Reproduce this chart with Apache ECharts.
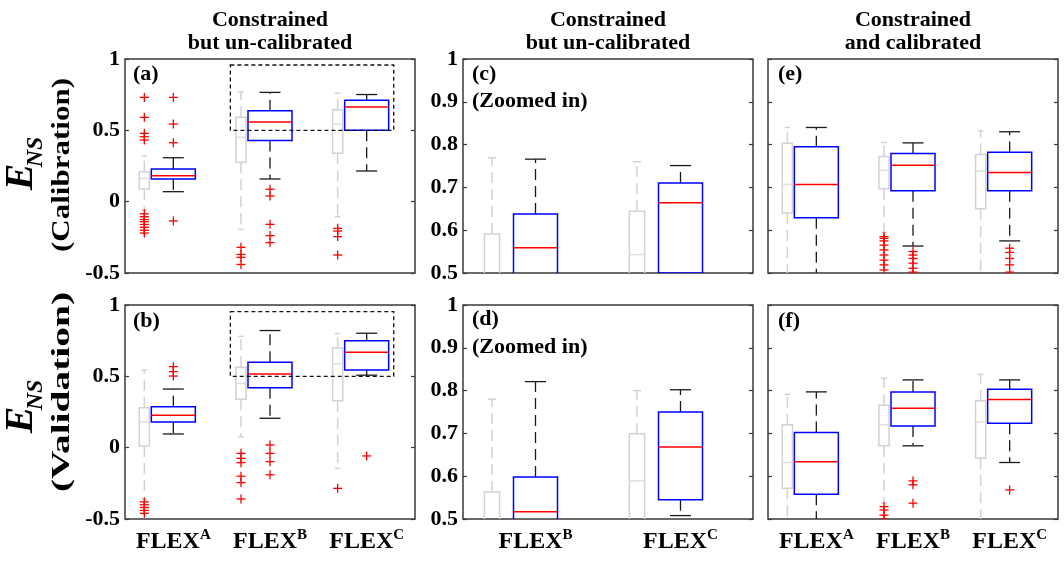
<!DOCTYPE html>
<html><head><meta charset="utf-8">
<script src="https://cdn.jsdelivr.net/npm/echarts@6/dist/echarts.min.js"></script>
<style>html,body{margin:0;padding:0;background:#fff}#chart{width:1064px;height:563px}</style>
</head><body><div id="chart"></div>
<script>
// ---------- DATA ----------
const modelsAll = ['A', 'B', 'C'];
const modelsZoom = ['B', 'C'];
const axisTicksWide = { min: -0.5, max: 1, interval: 0.5 };
const axisTicksZoom = { min: 0.5, max: 1, interval: 0.1 };
// five-number summaries [min, q1, median, q3, max] for FLEX A, B, C
// constrained but un-calibrated, calibration period
const calUncalGray = [[-0.06, 0.089, 0.163, 0.21, 0.32], [-0.194, 0.276, 0.451, 0.591, 0.769], [-0.105, 0.339, 0.543, 0.644, 0.76]];
const calUncalBlue = [[0.07, 0.159, 0.182, 0.229, 0.308], [0.159, 0.428, 0.559, 0.638, 0.766], [0.215, 0.5, 0.664, 0.71, 0.751]];
const calUncalGrayOut = [[0.731, 0.591, 0.479, 0.455, 0.432, -0.085, -0.105, -0.125, -0.14, -0.16, -0.18, -0.2, -0.22], [-0.32, -0.37, -0.39, -0.44], [-0.187, -0.206, -0.245, -0.374]];
const calUncalBlueOut = [[0.731, 0.544, 0.413, -0.135], [0.087, 0.04, -0.159, -0.238, -0.287], []];
// constrained but un-calibrated, validation period
const valUncalGray = [[-0.36, 0.012, 0.18, 0.28, 0.544], [0.077, 0.339, 0.451, 0.563, 0.78], [-0.145, 0.329, 0.589, 0.699, 0.8]];
const valUncalBlue = [[0.096, 0.18, 0.227, 0.287, 0.411], [0.206, 0.42, 0.517, 0.598, 0.821], [0.508, 0.545, 0.668, 0.75, 0.802]];
const valUncalGrayOut = [[-0.38, -0.40, -0.42, -0.44, -0.46], [-0.04, -0.075, -0.105, -0.2, -0.245, -0.36], [-0.285]];
const valUncalBlueOut = [[0.568, 0.533, 0.502], [0.019, -0.04, -0.098, -0.19], [-0.058]];
// constrained and calibrated, calibration period
const calCalGray = [[0.35, 0.64, 0.707, 0.803, 0.84], [0.595, 0.697, 0.74, 0.772, 0.805], [0.4, 0.65, 0.738, 0.777, 0.832]];
const calCalBlue = [[0.3, 0.629, 0.707, 0.795, 0.84], [0.563, 0.692, 0.752, 0.779, 0.804], [0.575, 0.692, 0.735, 0.782, 0.83]];
const calCalGrayOut = [[], [0.585, 0.581, 0.575, 0.565, 0.554, 0.542, 0.53, 0.519, 0.507], []];
const calCalBlueOut = [[], [0.55, 0.542, 0.534, 0.523, 0.511, 0.502], [0.558, 0.548, 0.534, 0.519, 0.502]];
// constrained and calibrated, validation period
const valCalGray = [[0.4, 0.572, 0.632, 0.72, 0.791], [0.537, 0.671, 0.72, 0.766, 0.829], [0.4, 0.642, 0.727, 0.776, 0.838]];
const valCalBlue = [[0.35, 0.558, 0.634, 0.702, 0.797], [0.671, 0.717, 0.759, 0.797, 0.825], [0.632, 0.724, 0.779, 0.803, 0.825]];
const valCalGrayOut = [[], [0.529, 0.521, 0.509, 0.5], []];
const valCalBlueOut = [[], [0.589, 0.58, 0.537], [0.568]];
// dashed zoom window (E_NS range) shown in panels a and b, spanning FLEX B..C
const zoomWindowCal = [0.5, 0.958];
const zoomWindowVal = [0.5, 0.953];

// ---------- LAYOUT / STYLE ----------
const FONT = '"Liberation Serif", "Times New Roman", serif';
const panels = [
  { id: 'a', left: 125, top: 59, cats: modelsAll, pick: [0, 1, 2], axis: axisTicksWide, yLabels: true, xLabels: false,
    gray: calUncalGray, blue: calUncalBlue, grayOut: calUncalGrayOut, blueOut: calUncalBlueOut, win: zoomWindowCal },
  { id: 'b', left: 125, top: 305, cats: modelsAll, pick: [0, 1, 2], axis: axisTicksWide, yLabels: true, xLabels: true,
    gray: valUncalGray, blue: valUncalBlue, grayOut: valUncalGrayOut, blueOut: valUncalBlueOut, win: zoomWindowVal },
  { id: 'c', left: 463, top: 59, cats: modelsZoom, pick: [1, 2], axis: axisTicksZoom, yLabels: true, xLabels: false,
    gray: calUncalGray, blue: calUncalBlue, grayOut: calUncalGrayOut, blueOut: calUncalBlueOut },
  { id: 'd', left: 463, top: 305, cats: modelsZoom, pick: [1, 2], axis: axisTicksZoom, yLabels: true, xLabels: true,
    gray: valUncalGray, blue: valUncalBlue, grayOut: valUncalGrayOut, blueOut: valUncalBlueOut },
  { id: 'e', left: 768, top: 59, cats: modelsAll, pick: [0, 1, 2], axis: axisTicksZoom, yLabels: false, xLabels: false,
    gray: calCalGray, blue: calCalBlue, grayOut: calCalGrayOut, blueOut: calCalBlueOut },
  { id: 'f', left: 768, top: 305, cats: modelsAll, pick: [0, 1, 2], axis: axisTicksZoom, yLabels: false, xLabels: true,
    gray: valCalGray, blue: valCalBlue, grayOut: valCalGrayOut, blueOut: valCalBlueOut }
];
const PW = 290, PH = 214;

function boxRender(kind) {
  return function (params, api) {
    const cat = api.value(0);
    const band = api.size([1, 0])[0];
    const cxBase = api.coord([cat, api.value(3)])[0];
    const y = k => api.coord([cat, api.value(k)])[1];
    const yMin = y(1), yQ1 = y(2), yMed = y(3), yQ3 = y(4), yMax = y(5);
    let cx, w, capW, boxC, medC, whC, whW, boxW;
    if (kind === 'gray') {
      cx = cxBase - 0.3 * band; w = 0.105 * band; capW = w * 0.55;
      boxC = '#d2d2d2'; medC = '#dedede'; whC = '#d2d2d2'; whW = 1.5; boxW = 1.5;
    } else {
      cx = cxBase; w = 44; capW = 21;
      boxC = '#0000ff'; medC = '#ff0000'; whC = '#1a1a1a'; whW = 1.3; boxW = 1.5;
    }
    const dash = { stroke: whC, lineWidth: whW, lineDash: [11, 6] };
    const solid = { stroke: whC, lineWidth: whW };
    return {
      type: 'group',
      children: [
        { type: 'line', shape: { x1: cx, y1: yQ3, x2: cx, y2: yMax }, style: dash },
        { type: 'line', shape: { x1: cx, y1: yQ1, x2: cx, y2: yMin }, style: dash },
        { type: 'line', shape: { x1: cx - capW / 2, y1: yMax, x2: cx + capW / 2, y2: yMax }, style: solid },
        { type: 'line', shape: { x1: cx - capW / 2, y1: yMin, x2: cx + capW / 2, y2: yMin }, style: solid },
        { type: 'rect', shape: { x: cx - w / 2, y: yQ3, width: w, height: yQ1 - yQ3 }, style: { fill: 'none', stroke: boxC, lineWidth: boxW } },
        { type: 'line', shape: { x1: cx - w / 2, y1: yMed, x2: cx + w / 2, y2: yMed }, style: { stroke: medC, lineWidth: 1.5 } }
      ]
    };
  };
}
function plusRender(kind) {
  return function (params, api) {
    const cat = api.value(0);
    const band = api.size([1, 0])[0];
    const p = api.coord([cat, api.value(1)]);
    const cx = kind === 'gray' ? p[0] - 0.3 * band : p[0];
    const s = 4.5;
    const st = { stroke: '#ff0000', lineWidth: 1.3 };
    return {
      type: 'group',
      children: [
        { type: 'line', shape: { x1: cx - s, y1: p[1], x2: cx + s, y2: p[1] }, style: st },
        { type: 'line', shape: { x1: cx, y1: p[1] - s, x2: cx, y2: p[1] + s }, style: st }
      ]
    };
  };
}
function windowRender(params, api) {
  const band = api.size([1, 0])[0];
  const l = api.coord([api.value(0), api.value(2)]);
  const r = api.coord([api.value(1), api.value(3)]);
  const x1 = l[0] - 0.41 * band, x2 = r[0] + 0.28 * band;
  return {
    type: 'rect',
    shape: { x: x1, y: r[1], width: x2 - x1, height: l[1] - r[1] },
    style: { fill: 'none', stroke: '#111', lineWidth: 1.3, lineDash: [4, 3] }
  };
}

const grids = [], xAxes = [], yAxes = [], series = [];
panels.forEach((p, gi) => {
  grids.push({ left: p.left, top: p.top, width: PW, height: PH, show: true, borderColor: '#3a3a3a', borderWidth: 1.5, backgroundColor: 'transparent' });
  xAxes.push({
    type: 'category', gridIndex: gi, data: p.cats,
    axisLine: { show: false }, axisTick: { show: false }, splitLine: { show: false },
    axisLabel: {
      show: p.xLabels, margin: 9, interval: 0,
      formatter: v => '{b|FLEX}{s|' + v + '}',
      rich: {
        b: { fontFamily: FONT, fontWeight: 'bold', fontSize: 24, color: '#000', lineHeight: 26, verticalAlign: 'bottom' },
        s: { fontFamily: FONT, fontWeight: 'bold', fontSize: 15, color: '#000', lineHeight: 16, verticalAlign: 'top' }
      }
    }
  });
  const yCommon = {
    type: 'value', gridIndex: gi, min: p.axis.min, max: p.axis.max, interval: p.axis.interval,
    axisLine: { show: false }, splitLine: { show: false },
    axisTick: { show: true, inside: true, length: 4, lineStyle: { color: '#3a3a3a', width: 1.2 } }
  };
  yAxes.push(Object.assign({}, yCommon, {
    position: 'left',
    axisLabel: { show: p.yLabels, fontFamily: FONT, fontWeight: 'bold', fontSize: 22, color: '#000', margin: 5, showMinLabel: true, showMaxLabel: true }
  }));
  yAxes.push(Object.assign({}, yCommon, { position: 'right', axisLabel: { show: false } }));
  const yi = gi * 2;
  const boxData = arr => p.pick.map((src, ci) => [ci].concat(arr[src]));
  const outData = arr => {
    const out = [];
    p.pick.forEach((src, ci) => arr[src].forEach(v => out.push([ci, v])));
    return out;
  };
  series.push({ type: 'custom', xAxisIndex: gi, yAxisIndex: yi, clip: true, renderItem: boxRender('gray'),
    encode: { x: 0, y: [1, 2, 3, 4, 5] }, data: boxData(p.gray), z: 2 });
  series.push({ type: 'custom', xAxisIndex: gi, yAxisIndex: yi, clip: true, renderItem: boxRender('blue'),
    encode: { x: 0, y: [1, 2, 3, 4, 5] }, data: boxData(p.blue), z: 3 });
  series.push({ type: 'custom', xAxisIndex: gi, yAxisIndex: yi, clip: true, renderItem: plusRender('gray'),
    encode: { x: 0, y: 1 }, data: outData(p.grayOut), z: 4 });
  series.push({ type: 'custom', xAxisIndex: gi, yAxisIndex: yi, clip: true, renderItem: plusRender('blue'),
    encode: { x: 0, y: 1 }, data: outData(p.blueOut), z: 4 });
  if (p.win) {
    series.push({ type: 'custom', xAxisIndex: gi, yAxisIndex: yi, clip: false, renderItem: windowRender,
      encode: { x: [0, 1], y: [2, 3] }, data: [[1, 2, p.win[0], p.win[1]]], z: 5 });
  }
});

// ---------- TEXT ----------
function measure(text, font) {
  const c = document.createElement('canvas').getContext('2d');
  c.font = font; return c.measureText(text).width;
}
function txt(text, x, y, size, opts) {
  opts = opts || {};
  const font = (opts.italic ? 'italic ' : '') + 'bold ' + size + 'px ' + FONT;
  const el = {
    type: 'text', x: x, y: y, rotation: opts.rot || 0,
    style: { text: text, font: font, fill: '#000', align: opts.align || 'center', verticalAlign: 'middle',
      textAlign: opts.align || 'center', textVerticalAlign: 'middle' }
  };
  if (opts.len) el.scaleX = opts.len / measure(text, font);
  return el;
}
const R = Math.PI / 2;
const graphics = [
  txt('Constrained', 270, 20, 22), txt('but un-calibrated', 270, 43, 22),
  txt('Constrained', 608, 20, 22), txt('but un-calibrated', 608, 43, 22),
  txt('Constrained', 913, 20, 22), txt('and calibrated', 913, 43, 22),
  txt('(a)', 133, 74, 22, { align: 'left' }),
  txt('(b)', 133, 321, 22, { align: 'left' }),
  txt('(c)', 472, 74, 22, { align: 'left' }), txt('(Zoomed in)', 472, 101, 22, { align: 'left' }),
  txt('(d)', 472, 319, 22, { align: 'left' }), txt('(Zoomed in)', 472, 347, 22, { align: 'left' }),
  txt('(e)', 778, 74, 22, { align: 'left' }),
  txt('(f)', 778, 321, 22, { align: 'left' }),
  txt('E', 22, 177, 40, { italic: true, rot: R }), txt('NS', 36, 152, 24, { italic: true, rot: R }),
  txt('(Calibration)', 62, 165, 26, { rot: R, len: 174 }),
  txt('E', 22, 420, 40, { italic: true, rot: R }), txt('NS', 36, 395, 24, { italic: true, rot: R }),
  txt('(Validation)', 62, 392, 26, { rot: R, len: 200 })
];

const chart = echarts.init(document.getElementById('chart'), null, { renderer: 'canvas' });
chart.setOption({
  animation: false,
  backgroundColor: '#fff',
  grid: grids, xAxis: xAxes, yAxis: yAxes, series: series,
  graphic: { elements: graphics }
});
</script></body></html>
